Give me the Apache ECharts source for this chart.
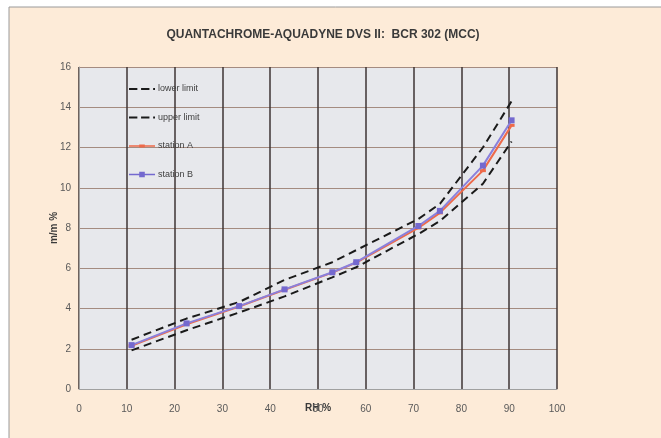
<!DOCTYPE html>
<html><head><meta charset="utf-8">
<script src="https://cdn.jsdelivr.net/npm/echarts@6/dist/echarts.min.js"></script>
<style>html,body{margin:0;padding:0;background:#fff}#c{width:661px;height:438px}</style>
</head><body><div id="c"></div>
<script>
var titleText = 'QUANTACHROME-AQUADYNE DVS II:  BCR 302 (MCC)';
var rh = [11, 22.5, 33.5, 43, 53, 58, 71, 75.5, 84.5, 90.5];
var lowerLimit = [1.92, 2.92, 3.8, 4.6, 5.55, 6.05, 7.7, 8.35, 10.2, 12.3];
var upperLimit = [2.45, 3.5, 4.32, 5.42, 6.3, 6.9, 8.45, 9.2, 12.0, 14.3];
var stationA = [2.15, 3.22, 4.1, 4.93, 5.78, 6.28, 8.0, 8.75, 10.85, 13.1];
var stationB = [2.18, 3.26, 4.12, 4.95, 5.8, 6.3, 8.1, 8.85, 11.1, 13.35];
var xTicks = [0, 10, 20, 30, 40, 50, 60, 70, 80, 90, 100];
var yTicks = [0, 2, 4, 6, 8, 10, 12, 14, 16];

function pairs(xs, ys){ return xs.map(function(x,i){ return [x, ys[i]]; }); }

var dashIcon = 'path://M0,5 H9 V7 H0 Z M13,5 H22 V7 H13 Z M26,5 H28 V7 H26 Z';
var lineSqIcon = 'path://M0,5.2 H28 V6.8 H0 Z M11,3 H17 V9 H11 Z';
var lineDashIcon = 'path://M0,5.2 H28 V6.8 H0 Z M11,4.5 H17 V7.5 H11 Z';

var chart = echarts.init(document.getElementById('c'));
var lab = {fontFamily:'Liberation Sans, Arial', fontSize:10, color:'#595959'};
chart.setOption({
  backgroundColor:'#ffffff',
  animation:false,
  graphic:[{type:'rect', shape:{x:9, y:7, width:700, height:500}, style:{fill:'#fdebd8', stroke:'#9a9a9a', lineWidth:1}, z:-10}],
  title:{text:titleText, left:318, textAlign:'center', top:24,
    textStyle:{fontFamily:'Liberation Sans, Arial', fontSize:12, fontWeight:'bold', color:'#3a3a3a'}},
  grid:{left:79, right:104, top:67, bottom:49, show:true, backgroundColor:'#e7e8ec', borderWidth:0},
  legend:{orient:'vertical', left:124, top:78, itemWidth:26, itemHeight:12,
    itemGap:16.5,
    textStyle:{fontFamily:'Liberation Sans, Arial', fontSize:9, color:'#404040', padding:[0,0,0,-2], lineHeight:12},
    data:[{name:'lower limit', icon:dashIcon},{name:'upper limit', icon:dashIcon},
          {name:'station A', icon:lineDashIcon},{name:'station B', icon:lineSqIcon}]},
  xAxis:{type:'value', min:0, max:100, interval:10, name:'RH %', nameLocation:'middle', nameGap:14, nameMoveOverlap:false,
    nameTextStyle:{fontFamily:'Liberation Sans, Arial', fontSize:10, fontWeight:'bold', color:'#3a3a3a'},
    axisLine:{show:true, lineStyle:{color:'#a0a0a0'}}, axisTick:{show:false},
    axisLabel:Object.assign({margin:15, formatter:function(v){return xTicks.indexOf(v)>=0?String(v):'';}}, lab),
    splitLine:{show:true, lineStyle:{color:'#3e3434', width:1.5}}},
  yAxis:{type:'value', min:0, max:16, interval:2, name:'m/m %', nameLocation:'middle', nameGap:20, nameMoveOverlap:false,
    nameTextStyle:{fontFamily:'Liberation Sans, Arial', fontSize:10, fontWeight:'bold', color:'#3a3a3a'},
    axisLine:{show:true, lineStyle:{color:'#a0a0a0'}}, axisTick:{show:false},
    axisLabel:Object.assign({margin:8, formatter:function(v){return yTicks.indexOf(v)>=0?String(v):'';}}, lab),
    splitLine:{show:true, lineStyle:{color:'#a48b80', width:1}}},
  series:[
    {name:'lower limit', type:'line', data:pairs(rh, lowerLimit), symbol:'none', itemStyle:{color:'#1a1a1a'},
      lineStyle:{color:'#1a1a1a', width:2, type:[8,5]}, z:3},
    {name:'upper limit', type:'line', data:pairs(rh, upperLimit), symbol:'none', itemStyle:{color:'#1a1a1a'},
      lineStyle:{color:'#1a1a1a', width:2, type:[8,5]}, z:3},
    {name:'station A', type:'line', data:pairs(rh, stationA), symbol:'rect', symbolSize:[6,3], itemStyle:{color:'#ee6a4a'},
      lineStyle:{color:'#ee6a4a', width:2}, z:4},
    {name:'station B', type:'line', data:pairs(rh, stationB), symbol:'rect', symbolSize:6, itemStyle:{color:'#7469cf'},
      lineStyle:{color:'#8a80dc', width:2}, z:5}
  ]
});
</script></body></html>
